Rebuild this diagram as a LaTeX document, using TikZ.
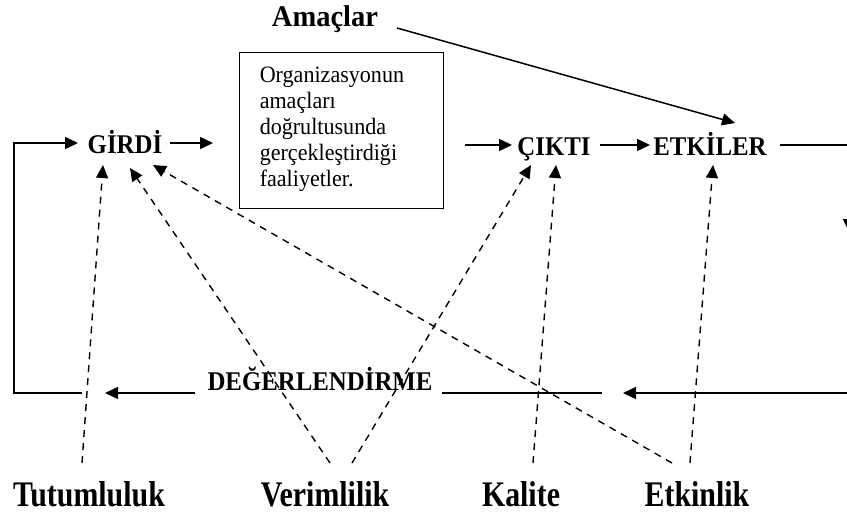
\documentclass[tikz,border=0pt]{standalone}
\usepackage{fontspec}
\setmainfont{Liberation Serif}
\newfontfamily\lowfont[FakeStretch=0.83]{Liberation Serif}
\newfontfamily\midfont[FakeStretch=0.92]{Liberation Serif}
\newfontfamily\amfont[FakeStretch=0.95]{Liberation Serif}
\newfontfamily\boxfont[FakeStretch=0.94]{Liberation Serif}
\usetikzlibrary{arrows.meta}
\begin{document}
\begin{tikzpicture}[x=1pt,y=-1pt,line width=1.5pt,
  arr/.style={-{Triangle[length=13pt,width=12pt]}},
  dsh/.style={line width=1.4pt,dash pattern=on 7pt off 6pt,-{Triangle[length=13pt,width=12pt]}},
  lbl/.style={font=\midfont\fontsize{27}{30}\selectfont\bfseries,inner sep=0pt,anchor=base},
  amc/.style={font=\amfont\fontsize{30}{34}\selectfont\bfseries,inner sep=0pt,anchor=base},
  big/.style={font=\lowfont\fontsize{36}{40}\selectfont\bfseries,inner sep=0pt,anchor=base},
  txt/.style={font=\boxfont\fontsize{23.5}{26}\selectfont,inner sep=0pt,anchor=base west}]
\useasboundingbox (0,0) rectangle (847,514);
% labels
\node[amc] (amac) at (325,27) {Amaçlar};
\node[lbl] (girdi) at (125,153) {GİRDİ};
\node[lbl] (cikti) at (554,155) {ÇIKTI};
\node[lbl] (etk) at (710,155) {ETKİLER};
\node[lbl] (deger) at (320,390) {DEĞERLENDİRME};
\node[big] (tut) at (89,506) {Tutumluluk};
\node[big] (ver) at (325,506) {Verimlilik};
\node[big] (kal) at (521,506) {Kalite};
\node[big] (etkn) at (697,506) {Etkinlik};
% box
\node[draw,line width=1.2pt,minimum width=204pt,minimum height=156pt,anchor=north west,inner sep=0pt] (box) at (239,52) {};
\node[txt] (b1) at (259,82) {Organizasyonun};
\node[txt] (b2) at (259,108) {amaçları};
\node[txt] (b3) at (259,134) {doğrultusunda};
\node[txt] (b4) at (259,160) {gerçekleştirdiği};
\node[txt] (b5) at (259,186) {faaliyetler.};
% coordinates
\coordinate (g1) at (170,143); \coordinate (g2) at (213,143);
\coordinate (c1) at (465,145); \coordinate (c2) at (512,145);
\coordinate (e1) at (600,145); \coordinate (e2) at (650,145);
\coordinate (r1) at (780,145); \coordinate (r2) at (849,145); \coordinate (r3) at (849,232);
\coordinate (a1) at (397,28); \coordinate (a2) at (735,123);
\coordinate (l1) at (78,143); \coordinate (l2) at (14,143); \coordinate (l3) at (14,393); \coordinate (l4) at (82,393);
\coordinate (d1) at (195,393); \coordinate (d2) at (105,393);
\coordinate (d3) at (442,393); \coordinate (d4) at (602,393);
\coordinate (d5) at (849,393); \coordinate (d6) at (623,393);
% solid connectors
\draw[arr] (g1) -- (g2);
\draw[arr] (c1) -- (c2);
\draw[arr] (e1) -- (e2);
\draw[arr] (r1) -- (r2) -- (r3);
\draw[arr] (a1) -- (a2);
\draw[arr] (l4) -- (l3) -- (l2) -- (l1);
\draw[arr] (d1) -- (d2);
\draw (d3) -- (d4);
\draw[arr] (d5) -- (d6);
% dashed
\coordinate (t0) at (82,463);  \coordinate (t1) at (103,165);
\coordinate (v0) at (330,463); \coordinate (v1) at (130,168);
\coordinate (v2) at (352,463); \coordinate (v3) at (531,165);
\coordinate (k0) at (533,463); \coordinate (k1) at (556,165);
\coordinate (f0) at (672,463); \coordinate (f1) at (153,165);
\coordinate (f2) at (690,463); \coordinate (f3) at (713,165);
\draw[dsh] (t0) -- (t1);
\draw[dsh] (v0) -- (v1);
\draw[dsh] (v2) -- (v3);
\draw[dsh] (k0) -- (k1);
\draw[dsh] (f0) -- (f1);
\draw[dsh] (f2) -- (f3);
\end{tikzpicture}
\end{document}
